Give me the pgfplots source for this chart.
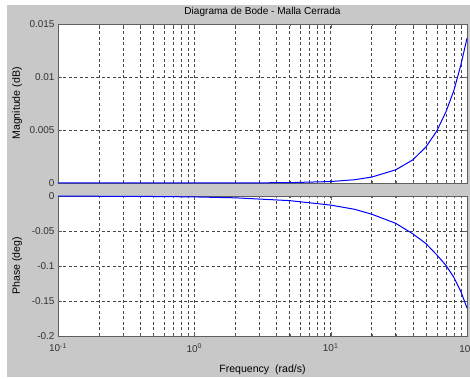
\documentclass[border=0pt]{standalone}
\usepackage{pgfplots}
\pgfplotsset{compat=1.18}
\usepackage{fontspec}
\setmainfont{Liberation Sans}
\definecolor{figbg}{RGB}{200,200,200}
\definecolor{gridc}{RGB}{70,70,70}
\definecolor{framec}{RGB}{95,95,95}
\begin{document}
\begin{tikzpicture}
\path[use as bounding box] (0bp,0bp) rectangle (470bp,379bp);
\fill[figbg] (7bp,2bp) rectangle (470bp,374bp);
\begin{axis}[
  xmode=log, scale only axis, width=409bp, height=159bp,
  at={(58bp,196bp)}, anchor=south west,
  xmin=0.1, xmax=100, ymin=0, ymax=0.015,
  scaled y ticks=false,
  axis background/.style={fill=white},
  grid=both,
  major grid style={gridc, dash pattern=on 3bp off 2.5bp, line width=0.45bp},
  minor grid style={gridc, dash pattern=on 3bp off 2.5bp, line width=0.45bp},
  axis line style={framec, line width=0.8bp},
  tick style={framec},
  tick align=inside,
  major tick length=4bp, minor tick length=2bp,
  xtick={0.1,1,10,100},
  minor xtick={0.2,0.3,0.4,0.5,0.6,0.7,0.8,0.9,2,3,4,5,6,7,8,9,20,30,40,50,60,70,80,90},
  tick label style={font=\fontsize{10}{12}\selectfont, text=black!80},
  label style={font=\fontsize{10.6}{12}\selectfont},
  ylabel style={at={(axis description cs:-0.1,0.5)},anchor=center},
  clip=false,
  ytick={0,0.005,0.01,0.015},
  yticklabels={0,0.005,0.01,0.015},
  xticklabels={},
  ylabel={Magnitude (dB)},
  title={Diagrama de Bode - Malla Cerrada},
  title style={font=\fontsize{10.1}{12}\selectfont, at={(axis description cs:0.5,1)},anchor=base,yshift=4bp},
]
\addplot[blue, line width=1bp] coordinates {
(0.1,0) (0.5,0.0000003) (1,0.0000014) (2,0.0000055) (5,0.000034) (10,0.000137)
(15,0.00031) (20,0.00056) (30,0.00124) (40,0.00218) (50,0.0034) (60,0.0049)
(70,0.0067) (80,0.0087) (90,0.0111) (100,0.01365)
};
\end{axis}
\begin{axis}[
  xmode=log, scale only axis, width=409bp, height=140bp,
  at={(58bp,43bp)}, anchor=south west,
  xmin=0.1, xmax=100, ymin=-0.2, ymax=0,
  scaled y ticks=false,
  axis background/.style={fill=white},
  grid=both,
  major grid style={gridc, dash pattern=on 3bp off 2.5bp, line width=0.45bp},
  minor grid style={gridc, dash pattern=on 3bp off 2.5bp, line width=0.45bp},
  axis line style={framec, line width=0.8bp},
  tick style={framec},
  tick align=inside,
  major tick length=4bp, minor tick length=2bp,
  xtick={0.1,1,10,100},
  minor xtick={0.2,0.3,0.4,0.5,0.6,0.7,0.8,0.9,2,3,4,5,6,7,8,9,20,30,40,50,60,70,80,90},
  tick label style={font=\fontsize{10}{12}\selectfont, text=black!80},
  label style={font=\fontsize{10.6}{12}\selectfont},
  ylabel style={at={(axis description cs:-0.1,0.5)},anchor=center},
  clip=false,
  ytick={-0.2,-0.15,-0.1,-0.05,0},
  yticklabels={-0.2,-0.15,-0.1,-0.05,0},
  xticklabels={10\textsuperscript{-1},10\textsuperscript{0},10\textsuperscript{1},10\textsuperscript{2}},
  xticklabel style={yshift=-4bp},
  ylabel={Phase (deg)},
  xlabel={Frequency\ \ (rad/s)},
  xlabel style={at={(axis description cs:0.5,0)},anchor=base,yshift=-37bp},
]
\addplot[blue, line width=1bp] coordinates {
(0.1,-0.0001) (0.5,-0.0007) (1,-0.0013) (2,-0.0026) (5,-0.0066) (10,-0.013)
(15,-0.019) (20,-0.026) (30,-0.039) (40,-0.054) (50,-0.068) (60,-0.084)
(70,-0.099) (80,-0.116) (90,-0.136) (100,-0.160)
};
\end{axis}
\end{tikzpicture}
\end{document}
